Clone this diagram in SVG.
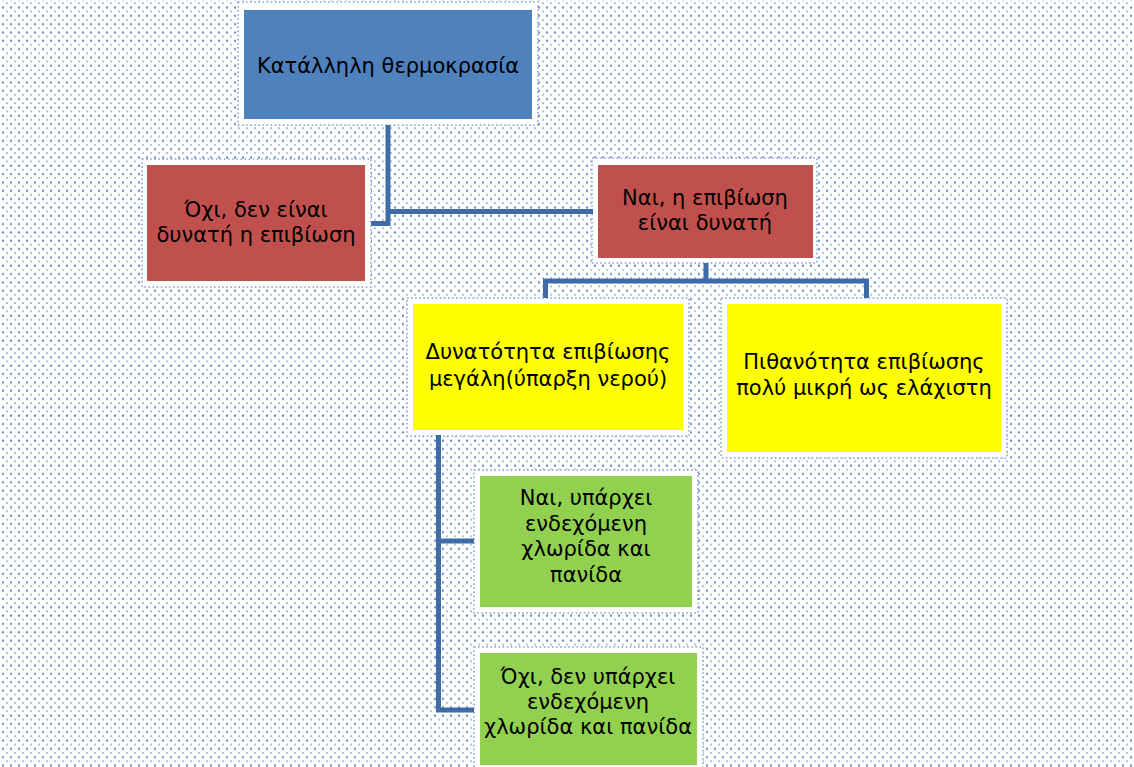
<svg xmlns="http://www.w3.org/2000/svg" width="1134" height="767" viewBox="0 0 1134 767">
<defs>
<pattern id="dots" x="0" y="5" width="8" height="8.33" patternUnits="userSpaceOnUse">
<rect x="2" y="1.5" width="2" height="2" fill="#5d88c4"/>
<rect x="6" y="5.7" width="2" height="1.6" fill="#9ab6dc"/>
</pattern>
</defs>
<style>
.frame{fill:#ffffff;stroke:#7c9fd0;stroke-width:1.5;stroke-dasharray:1.5 2.6}
.blue{fill:#4f81bd}
.red{fill:#c0504d}
.yellow{fill:#ffff00}
.green{fill:#92d050}
.t{font-family:"DejaVu Sans","Noto Sans",sans-serif;font-size:21px;fill:#000000;text-anchor:middle}
.c{fill:none;stroke:#3f6ca8;stroke-width:5;stroke-linecap:butt;stroke-linejoin:miter}
</style>
<rect x="0" y="0" width="1134" height="767" fill="#ffffff"/>
<rect x="0" y="0" width="1134" height="767" fill="url(#dots)"/>

<g id="n1">
<rect class="frame" x="238" y="2" width="300" height="123"/>
<rect class="blue" x="244" y="10" width="288" height="109"/>
<text class="t" x="388" y="73">Κατάλληλη θερμοκρασία</text>
</g>
<g id="n2">
<rect class="frame" x="142" y="159" width="229" height="128"/>
<rect class="red" x="147" y="165" width="218" height="116"/>
<text class="t" x="256" y="217">Όχι, δεν είναι</text>
<text class="t" x="256" y="242">δυνατή η επιβίωση</text>
</g>
<g id="n3">
<rect class="frame" x="592" y="158" width="225" height="105"/>
<rect class="red" x="598" y="165" width="215" height="93"/>
<text class="t" x="705" y="205">Ναι, η επιβίωση</text>
<text class="t" x="705" y="230">είναι δυνατή</text>
</g>
<g id="n4">
<rect class="frame" x="407" y="298" width="282" height="138"/>
<rect class="yellow" x="413" y="304" width="270" height="126"/>
<text class="t" x="548" y="359">Δυνατότητα επιβίωσης</text>
<text class="t" x="548" y="386">μεγάλη(ύπαρξη νερού)</text>
</g>
<g id="n5">
<rect class="frame" x="721" y="298" width="286" height="160"/>
<rect class="yellow" x="727" y="304" width="274" height="148"/>
<text class="t" x="864" y="369">Πιθανότητα επιβίωσης</text>
<text class="t" x="864" y="395">πολύ μικρή ως ελάχιστη</text>
</g>
<g id="n6">
<rect class="frame" x="474" y="470" width="224" height="143"/>
<rect class="green" x="480" y="476" width="212" height="131"/>
<text class="t" x="586" y="505">Ναι, υπάρχει</text>
<text class="t" x="586" y="531">ενδεχόμενη</text>
<text class="t" x="586" y="556">χλωρίδα και</text>
<text class="t" x="586" y="582">πανίδα</text>
</g>
<g id="n7">
<rect class="frame" x="474" y="647" width="229" height="124"/>
<rect class="green" x="480" y="653" width="217" height="112"/>
<text class="t" x="588" y="684">Όχι, δεν υπάρχει</text>
<text class="t" x="588" y="709">ενδεχόμενη</text>
<text class="t" x="588" y="734">χλωρίδα και πανίδα</text>
</g>

<g id="connectors">
<path class="c" d="M388,125 V226 M371,223.5 H390.5"/>
<path class="c" d="M388,211.5 H593"/>
<path class="c" d="M706,263 V281 M545.5,298 V281 H866.5 V298"/>
<path class="c" d="M438.5,435 V712.5 M436,541 H474 M436,710 H474"/>
</g>
</svg>
